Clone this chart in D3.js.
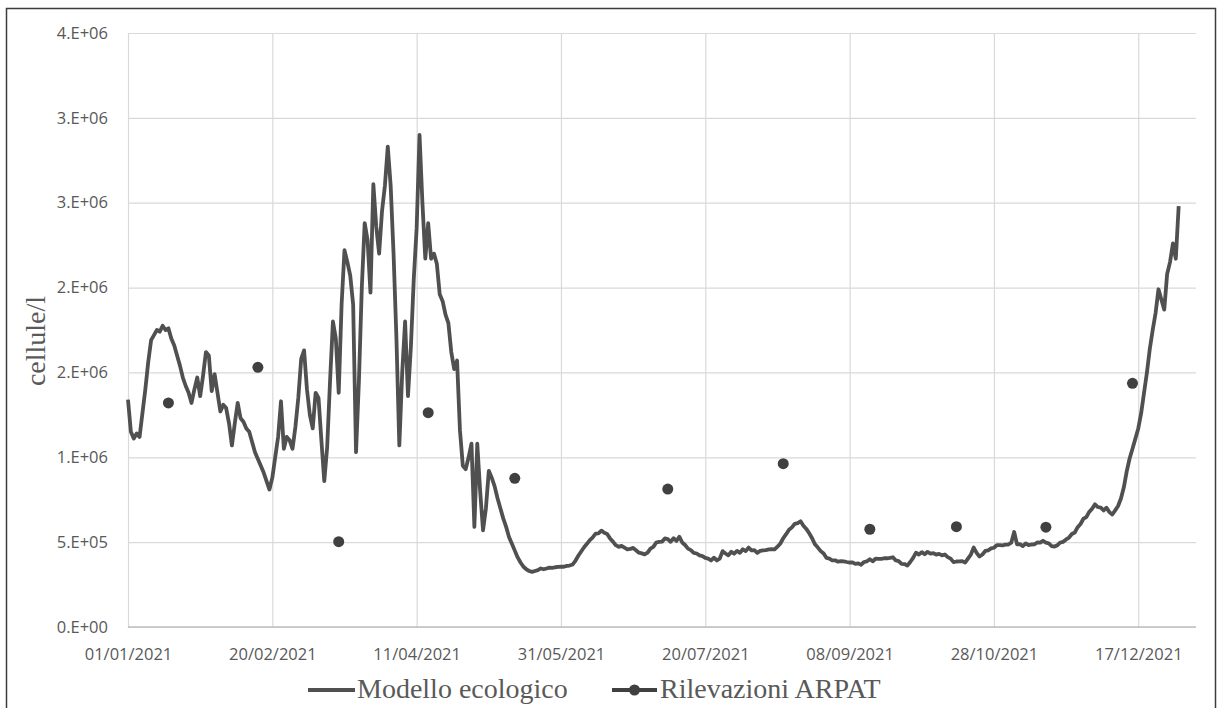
<!DOCTYPE html>
<html>
<head>
<meta charset="utf-8">
<script src="https://cdn.jsdelivr.net/npm/d3@7"></script>
<style>
  body { margin: 0; background: #ffffff; }
  svg { display: block; }
</style>
</head>
<body>
<svg id="chart" width="1218" height="708"></svg>
<script>
// Daily output of the ecological model, in thousands of cells per litre, starting 01/01/2021
const startDate = "2021-01-01";
const modelThousands = [
  1340,1150,1110,1140,1120,1260,1400,1560,1690,1720,
  1750,1740,1775,1750,1760,1700,1660,1600,1540,1470,
  1420,1380,1320,1400,1470,1360,1480,1620,1600,1390,
  1490,1380,1270,1310,1290,1200,1070,1200,1320,1230,
  1210,1170,1150,1090,1030,990,950,910,860,810,
  880,1000,1120,1330,1050,1120,1100,1050,1180,1350,
  1580,1630,1400,1250,1170,1380,1350,1100,860,1060,
  1450,1800,1700,1380,1900,2220,2150,2070,1900,1030,
  1450,2000,2380,2280,1970,2610,2360,2200,2450,2600,
  2830,2600,2200,1700,1070,1500,1800,1360,1650,2050,
  2350,2900,2500,2170,2380,2170,2200,2140,1960,1920,
  1840,1790,1620,1520,1570,1160,950,930,1000,1080,
  590,1080,800,570,700,920,880,830,760,700,
  640,590,530,490,450,410,380,355,340,330,
  325,330,335,345,340,345,350,348,352,
  354,356,355,360,362,368,390,420,445,470,
  490,512,528,550,552,568,555,548,522,503,
  482,472,478,468,458,460,466,452,438,434,
  428,438,462,472,498,502,503,522,518,502,
  523,507,532,498,483,462,453,437,433,422,
  418,407,403,392,408,392,403,447,433,422,
  443,432,448,437,458,447,468,452,453,437,
  448,452,453,457,458,457,473,492,523,547,
  573,587,608,612,623,597,578,552,523,487,
  468,447,433,407,403,392,393,385,388,387,
  383,380,381,372,375,367,383,387,399,387,
  403,402,401,405,405,407,411,392,388,
  372,371,362,383,407,438,427,441,429,443,
  433,435,427,431,422,427,412,403,382,386,
  387,388,380,403,427,468,437,415,427,448,
  452,463,467,483,482,481,485,486,497,560,
  487,488,477,493,482,486,487,498,497,508,
  497,493,477,474,482,498,502,516,527,548,
  557,588,607,638,647,678,697,723,707,703,
  687,703,677,663,687,713,757,823,917,993,
  1050,1110,1170,1260,1380,1500,1640,1750,1850,1990,
  1930,1870,2080,2150,2260,2170,2480
];

// ARPAT field samples (thousands of cells per litre)
const arpatDates = ["2021-01-15","2021-02-15","2021-03-15","2021-04-15","2021-05-15","2021-07-07",
                    "2021-08-16","2021-09-15","2021-10-15","2021-11-15","2021-12-15"];
const arpatThousands = [1320, 1530, 503, 1263, 876, 813, 962, 576, 591, 588, 1436];

const yTicks = [0, 500000, 1000000, 1500000, 2000000, 2500000, 3000000, 3500000];
const yTickLabels = ["0.E+00","5.E+05","1.E+06","2.E+06","2.E+06","3.E+06","3.E+06","4.E+06"];
const xTickDates = ["2021-01-01","2021-02-20","2021-04-11","2021-05-31","2021-07-20","2021-09-08","2021-10-28","2021-12-17"];
const xTickLabels = ["01/01/2021","20/02/2021","11/04/2021","31/05/2021","20/07/2021","08/09/2021","28/10/2021","17/12/2021"];
const seriesNames = ["Modello ecologico", "Rilevazioni ARPAT"];
const yTitle = "cellule/l";
const xDomainEnd = "2022-01-06";

const parse = d3.utcParse("%Y-%m-%d");
const t0 = parse(startDate);
const DAY = 86400000;

const svg = d3.select("#chart");
const plot = { left: 128, right: 1196, top: 33, bottom: 627 };
const grey = "#595959";
const lineColor = "#505050";

const x = d3.scaleUtc().domain([t0, parse(xDomainEnd)]).range([plot.left, plot.right]);
const y = d3.scaleLinear().domain([0, 3500000]).range([plot.bottom, plot.top]);

// outer frame
svg.append("rect")
  .attr("x", 6.5).attr("y", 8.5).attr("width", 1209).attr("height", 760)
  .attr("fill", "#ffffff").attr("stroke", "#3c3c3c").attr("stroke-width", 1.5);

// horizontal grid + value labels
const yAxis = svg.append("g")
  .attr("transform", `translate(${plot.left},0)`)
  .call(d3.axisLeft(y).tickValues(yTicks)
    .tickSize(-(plot.right - plot.left)).tickPadding(20)
    .tickFormat((d, i) => yTickLabels[i]));
yAxis.select(".domain").remove();
yAxis.selectAll(".tick line").attr("stroke", "#d9d9d9").attr("stroke-width", 1.2);
yAxis.selectAll(".tick text")
  .attr("fill", grey).style("font-family", "'Open Sans', sans-serif").style("font-size", "16.5px");

// vertical grid + date labels
const xAxis = svg.append("g")
  .attr("transform", `translate(0,${plot.bottom})`)
  .call(d3.axisBottom(x).tickValues(xTickDates.map(parse))
    .tickSize(-(plot.bottom - plot.top)).tickPadding(21)
    .tickFormat((d, i) => xTickLabels[i]));
xAxis.select(".domain").remove();
xAxis.selectAll(".tick line").attr("stroke", "#d9d9d9").attr("stroke-width", 1.2);
xAxis.selectAll(".tick text")
  .attr("fill", grey).style("font-family", "'Open Sans', sans-serif").style("font-size", "16.5px");

// category axis baseline
svg.append("line")
  .attr("x1", plot.left).attr("x2", plot.right)
  .attr("y1", y(0)).attr("y2", y(0))
  .attr("stroke", "#bfbfbf").attr("stroke-width", 1.3);

// model series
const modelPoints = modelThousands.map((v, i) => ({ date: new Date(t0.getTime() + i * DAY), value: v * 1000 }));
const line = d3.line().x(d => x(d.date)).y(d => y(d.value));
svg.append("path")
  .datum(modelPoints)
  .attr("d", line)
  .attr("fill", "none")
  .attr("stroke", lineColor)
  .attr("stroke-width", 3.8)
  .attr("stroke-linejoin", "round");

// ARPAT samples
const arpatPoints = arpatDates.map((d, i) => ({ date: parse(d), value: arpatThousands[i] * 1000 }));
svg.append("g").selectAll("circle")
  .data(arpatPoints)
  .join("circle")
  .attr("cx", d => x(d.date))
  .attr("cy", d => y(d.value))
  .attr("r", 5.5)
  .attr("fill", "#404040");

// axis title
svg.append("text")
  .attr("transform", `translate(45,341) rotate(-90)`)
  .attr("text-anchor", "middle")
  .attr("fill", grey)
  .style("font-family", "'Liberation Serif', serif")
  .style("font-size", "28px")
  .text(yTitle);

// legend
const legend = svg.append("g").attr("transform", "translate(0,690)");
legend.append("line").attr("x1", 308).attr("x2", 355).attr("y1", 0).attr("y2", 0)
  .attr("stroke", lineColor).attr("stroke-width", 3.8);
legend.append("text").attr("x", 357).attr("y", 8)
  .attr("fill", grey).style("font-family", "'Liberation Serif', serif").style("font-size", "28px")
  .text(seriesNames[0]);
legend.append("line").attr("x1", 612).attr("x2", 657).attr("y1", 0).attr("y2", 0)
  .attr("stroke", "#404040").attr("stroke-width", 3.8);
legend.append("circle").attr("cx", 634.5).attr("cy", 0).attr("r", 5.5).attr("fill", "#404040");
legend.append("text").attr("x", 660).attr("y", 8)
  .attr("fill", grey).style("font-family", "'Liberation Serif', serif").style("font-size", "28px")
  .text(seriesNames[1]);
</script>
</body>
</html>
